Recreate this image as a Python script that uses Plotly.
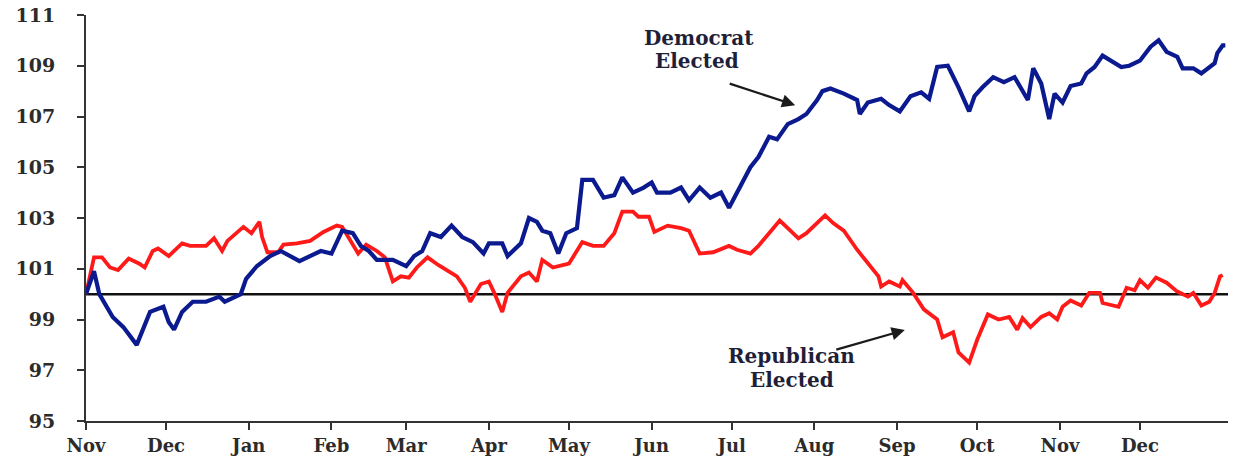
import pandas as pd
import plotly.graph_objects as go

# Day offsets from the first trading day of November, and index levels (start = 100)
dem_days = [0, 3, 5, 10, 14, 19, 24, 29, 31, 33, 36, 40, 45, 50, 52, 58, 60, 64, 69, 73,
            80, 88, 92, 96, 100, 103, 106, 109, 115, 120, 123, 126, 129, 133, 137, 141, 145,
            149, 151, 156, 158, 163, 166, 169, 171, 174, 177, 180, 184, 186, 190, 194, 198,
            201, 205, 209, 212, 214, 219, 223, 226, 230, 234, 238, 241, 245, 249, 252, 256,
            259, 263, 267, 270, 274, 276, 279, 284, 289, 290, 293, 298, 301, 305, 309, 313,
            316, 319, 323, 327, 331, 333, 336, 340, 344, 348, 353, 355, 358, 361, 363, 366,
            369, 373, 375, 378, 381, 388, 391, 395, 399, 402, 405, 409, 411, 415, 418, 423,
            424, 426, 427]
dem_vals = [100.0, 100.9, 100.0, 99.1, 98.7, 98.0, 99.3, 99.5, 98.9, 98.6, 99.3, 99.7, 99.7,
            99.9, 99.7, 100.0, 100.6, 101.1, 101.5, 101.7, 101.3, 101.7, 101.6, 102.5, 102.4,
            101.9, 101.7, 101.35, 101.35, 101.1, 101.5, 101.7, 102.4, 102.25, 102.7, 102.25,
            102.05, 101.6, 102.0, 102.0, 101.5, 102.0, 103.0, 102.85, 102.5, 102.4, 101.6,
            102.4, 102.6, 104.5, 104.5, 103.8, 103.9, 104.6, 104.0, 104.2, 104.4, 104.0, 104.0,
            104.2, 103.7, 104.2, 103.8, 104.0, 103.4, 104.2, 105.0, 105.4, 106.2, 106.1, 106.7,
            106.9, 107.1, 107.65, 108.0, 108.1, 107.9, 107.65, 107.1, 107.55, 107.7, 107.45,
            107.2, 107.8, 107.95, 107.7, 108.95, 109.0, 108.15, 107.2, 107.8, 108.15, 108.55,
            108.35, 108.55, 107.65, 108.9, 108.3, 106.9, 107.9, 107.55, 108.2, 108.3, 108.7,
            108.95, 109.4, 108.95, 109.0, 109.2, 109.75, 110.0, 109.55, 109.35, 108.9, 108.9,
            108.7, 109.1, 109.5, 109.8, 109.8]

rep_days = [0, 3, 6, 9, 12, 16, 20, 22, 25, 27, 31, 36, 39, 45, 48, 51, 53, 59, 62, 65, 66,
            68, 72, 74, 79, 84, 89, 94, 96, 99, 102, 105, 109, 112, 115, 118, 121, 124, 128,
            132, 135, 139, 142, 144, 148, 151, 153, 156, 158, 163, 166, 169, 171, 175, 179,
            181, 186, 190, 194, 198, 201, 205, 207, 211, 213, 218, 223, 226, 230, 235, 241,
            244, 249, 252, 256, 260, 263, 267, 270, 274, 277, 280, 284, 289, 293, 297, 298,
            301, 305, 306, 310, 314, 319, 321, 325, 327, 331, 334, 338, 342, 346, 349, 351,
            354, 358, 361, 364, 366, 369, 373, 376, 380, 381, 387, 390, 393, 395, 398, 401,
            405, 409, 413, 415, 418, 421, 423, 425, 426]
rep_vals = [100.0, 101.45, 101.45, 101.05, 100.95, 101.4, 101.2, 101.05, 101.7, 101.8, 101.5,
            102.0, 101.9, 101.9, 102.2, 101.7, 102.1, 102.65, 102.4, 102.85, 102.25, 101.65,
            101.65, 101.95, 102.0, 102.1, 102.45, 102.7, 102.65, 102.1, 101.6, 101.95, 101.7,
            101.45, 100.5, 100.7, 100.65, 101.05, 101.45, 101.15, 100.95, 100.7, 100.25, 99.7,
            100.4, 100.5, 100.05, 99.3, 100.05, 100.7, 100.85, 100.5, 101.35, 101.05, 101.15,
            101.2, 102.05, 101.9, 101.9, 102.4, 103.25, 103.25, 103.05, 103.05, 102.45, 102.7,
            102.6, 102.5, 101.6, 101.65, 101.9, 101.75, 101.6, 101.9, 102.4, 102.9, 102.6,
            102.2, 102.4, 102.8, 103.1, 102.8, 102.5, 101.75, 101.2, 100.7, 100.3, 100.5,
            100.3, 100.55, 100.05, 99.4, 99.0, 98.3, 98.5, 97.7, 97.3, 98.2, 99.2, 99.0, 99.1,
            98.6, 99.05, 98.7, 99.1, 99.25, 99.0, 99.5, 99.75, 99.55, 100.05, 100.05, 99.65,
            99.5, 100.25, 100.15, 100.55, 100.25, 100.65, 100.45, 100.1, 99.9, 100.05, 99.55,
            99.7, 100.05, 100.7, 100.75]

start_date = "2014-11-01"
month_ticks = pd.date_range("2014-11-01", "2015-12-01", freq="MS")
month_labels = [d.strftime("%b") for d in month_ticks]
y_ticks = [95, 97, 99, 101, 103, 105, 107, 109, 111]
baseline = 100

base = pd.Timestamp(start_date)
dem_x = [base + pd.Timedelta(days=d) for d in dem_days]
rep_x = [base + pd.Timedelta(days=d) for d in rep_days]
x_end = base + pd.Timedelta(days=428)

FONT = "DejaVu Serif"
TXT = "#2b2b2b"
ANN = "#1f1f3a"

fig = go.Figure()
fig.add_trace(go.Scatter(x=[base, x_end], y=[baseline, baseline], mode="lines",
                         line=dict(color="#111111", width=2.5), hoverinfo="skip"))
fig.add_trace(go.Scatter(x=rep_x, y=rep_vals, mode="lines", name="Republican Elected",
                         line=dict(color="#ff1a1a", width=3.8)))
fig.add_trace(go.Scatter(x=dem_x, y=dem_vals, mode="lines", name="Democrat Elected",
                         line=dict(color="#0b1a8f", width=4.2)))

fig.update_layout(
    width=1237, height=458,
    margin=dict(l=86, r=9, t=15, b=37),
    paper_bgcolor="white", plot_bgcolor="white",
    showlegend=False,
    font=dict(family=FONT, color=TXT),
    xaxis=dict(
        type="date", range=[base, x_end], automargin=False,
        tickvals=list(month_ticks), ticktext=month_labels,
        showgrid=False, zeroline=False,
        showline=True, linecolor="#333333", linewidth=2,
        ticks="outside", ticklen=7, tickwidth=2, tickcolor="#333333",
        tickfont=dict(family=FONT, size=18, color=TXT, weight="bold"),
    ),
    yaxis=dict(
        range=[95, 111], tickvals=y_ticks, automargin=False,
        showgrid=False, zeroline=False,
        showline=True, linecolor="#333333", linewidth=2,
        ticks="outside", ticklen=7, tickwidth=2, tickcolor="#333333",
        tickfont=dict(family=FONT, size=19, color=TXT, weight="bold"),
        ticklabelstandoff=18,
    ),
)

labels = [("Democrat", 0.537, 0.943), ("Elected", 0.535, 0.886),
          ("Republican", 0.618, 0.159), ("Elected", 0.618, 0.100)]
for txt, px, py in labels:
    fig.add_annotation(xref="paper", yref="paper", x=px, y=py,
                       xanchor="center", yanchor="middle", borderpad=0,
                       text="<b>" + txt + "</b>", showarrow=False,
                       font=dict(family=FONT, size=20, color=ANN))
fig.add_annotation(xref="paper", yref="paper", x=0.621, y=0.778, text="",
                   showarrow=True, arrowhead=2, arrowsize=1.2, arrowwidth=2.2,
                   arrowcolor="#1a1a1a", ax=-67, ay=-22)
fig.add_annotation(xref="paper", yref="paper", x=0.717, y=0.224, text="",
                   showarrow=True, arrowhead=2, arrowsize=1.2, arrowwidth=2.2,
                   arrowcolor="#1a1a1a", ax=-70, ay=20)

fig.write_html("out.html")
